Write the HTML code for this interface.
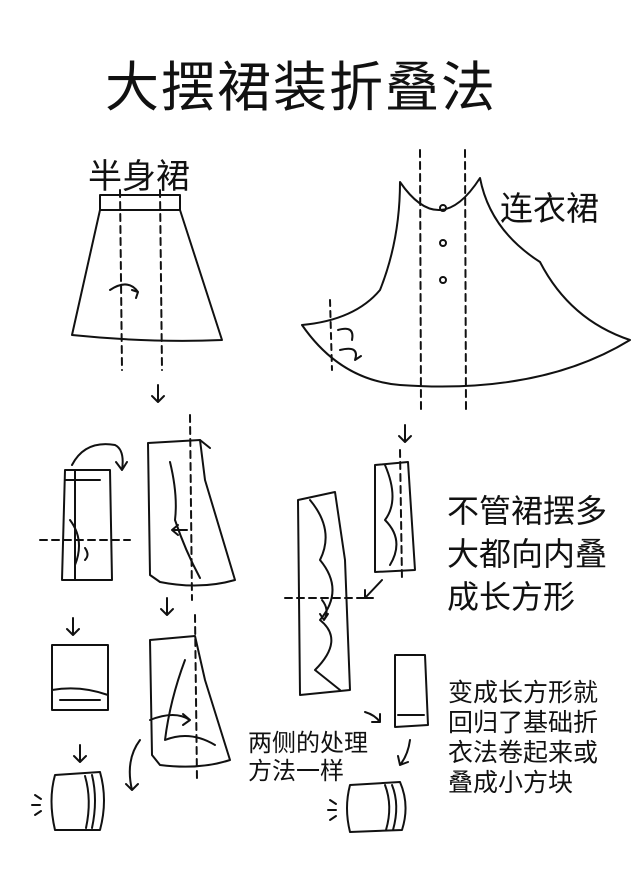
<!DOCTYPE html>
<html><head><meta charset="utf-8"><style>
body{margin:0;background:#fff;}
svg{display:block}
text{font-family:"Liberation Sans","Noto Sans CJK SC",sans-serif;fill:#111}
</style></head><body>
<svg width="640" height="896" viewBox="0 0 640 896" xmlns="http://www.w3.org/2000/svg">
<rect width="640" height="896" fill="#fff"/>
<text x="105" y="106" font-size="54" letter-spacing="2">大摆裙装折叠法</text>
<text x="88" y="188" font-size="34">半身裙</text>
<text x="500" y="220" font-size="33">连衣裙</text>
<g font-size="32"><text x="447" y="522">不管裙摆多</text><text x="447" y="565">大都向内叠</text><text x="447" y="608">成长方形</text></g>
<g font-size="25"><text x="448" y="701">变成长方形就</text><text x="448" y="731">回归了基础折</text><text x="448" y="761">衣法卷起来或</text><text x="448" y="791">叠成小方块</text></g>
<g font-size="24"><text x="248" y="751">两侧的处理</text><text x="248" y="779">方法一样</text></g>
<g fill="none" stroke="#111" stroke-width="2" stroke-linejoin="round" stroke-linecap="round">
<path d="M100 195 L180 195 L180 210 L100 210 Z"/>
<path d="M100 210 L72 335 Q150 343 222 340 L180 210"/>
<path d="M120 190 L122 370 M160 190 L162 370" stroke-dasharray="7 5"/>
<path d="M110 290 Q128 278 138 292 M132 290 l6 2 l-2 6"/>
<path d="M400 182 Q440 240 480 178 Q490 230 540 262 Q570 320 630 340 Q540 395 400 385 Q340 380 302 325 Q355 320 380 290 Q400 240 400 182 Z"/>
<path d="M420 150 L421 410 M465 150 L466 410" stroke-dasharray="7 5"/>
<path d="M330 300 L332 370" stroke-dasharray="6 5"/>
<circle cx="443" cy="208" r="3"/><circle cx="443" cy="243" r="3"/><circle cx="443" cy="280" r="3"/>
<path d="M338 330 Q355 325 352 340 M340 350 Q360 345 355 360 l6 -4"/>
<path d="M158 385 v15 M152 396 l6 6 l6 -6"/>
<path d="M405 425 v15 M399 436 l6 6 l6 -6"/>
<path d="M167 598 v15 M161 609 l6 6 l6 -6"/>
<path d="M73 618 v15 M67 629 l6 6 l6 -6"/>
<path d="M80 745 v15 M74 756 l6 6 l6 -6"/>
<path d="M148 443 L200 440 L205 480 L235 580 Q200 590 160 582 L150 575 Z"/>
<path d="M170 462 Q178 495 175 520 Q185 550 200 578 M200 440 L210 448" />
<path d="M190 415 L192 600" stroke-dasharray="7 5"/>
<path d="M172 530 h15 M178 525 l-6 5 l6 5"/>
<path d="M150 640 L195 636 L205 680 L230 760 Q200 770 160 765 L152 755 Z"/>
<path d="M185 660 Q170 700 165 740 Q190 730 215 745"/>
<path d="M195 615 L197 780" stroke-dasharray="7 5"/>
<path d="M150 720 Q175 710 190 720 M183 714 l7 6 l-7 5"/>
<path d="M140 740 Q125 760 132 790 M126 784 l6 6 l6 -6"/>
<path d="M65 470 L110 470 L112 580 L62 580 Z"/>
<path d="M75 470 L75 580 M65 480 L100 480 M70 520 Q85 540 75 565"/>
<path d="M40 540 L130 540" stroke-dasharray="7 5"/>
<path d="M72 465 Q85 440 115 445 Q125 450 122 470 M116 462 l6 8 l5 -8"/>
<path d="M85 548 Q90 555 85 560"/>
<path d="M52 645 L108 645 L108 710 L52 710 Z M52 690 Q80 685 108 695 M60 700 h40"/>
<path d="M55 775 L100 772 Q108 800 100 830 L55 830 Q48 800 55 775 Z"/>
<path d="M92 775 Q98 800 92 828 M85 776 Q92 800 86 828"/>
<path d="M32 805 l8 0 M35 795 l6 4 M35 815 l6 -4"/>
<path d="M298 500 L335 492 L345 560 L350 690 L300 695 Z"/>
<path d="M310 500 Q335 530 320 560 Q345 590 320 620 Q345 640 315 670 L340 690"/>
<path d="M285 598 L370 598" stroke-dasharray="7 5"/>
<path d="M322 600 Q330 610 324 620 M320 614 l4 6 l4 -6"/>
<path d="M382 580 L365 598 M365 590 l0 8 l8 0"/>
<path d="M375 465 L408 462 L415 570 L375 572 Z"/>
<path d="M385 465 Q400 500 385 520 Q405 540 390 565"/>
<path d="M400 450 L402 580" stroke-dasharray="7 5"/>
<path d="M395 655 L425 655 L428 725 L395 727 Z M398 715 h26"/>
<path d="M365 712 Q375 715 380 722 M372 722 l8 0 l0 -8"/>
<path d="M410 740 Q408 755 400 765 M398 756 l2 9 l8 -3"/>
<path d="M350 785 L400 782 Q410 805 402 830 L350 832 Q344 808 350 785 Z"/>
<path d="M392 785 Q400 805 393 830 M385 785 Q393 806 386 830"/>
<path d="M328 810 l8 0 M330 800 l6 4 M330 820 l6 -4"/>
</g>
</svg>
</body></html>
